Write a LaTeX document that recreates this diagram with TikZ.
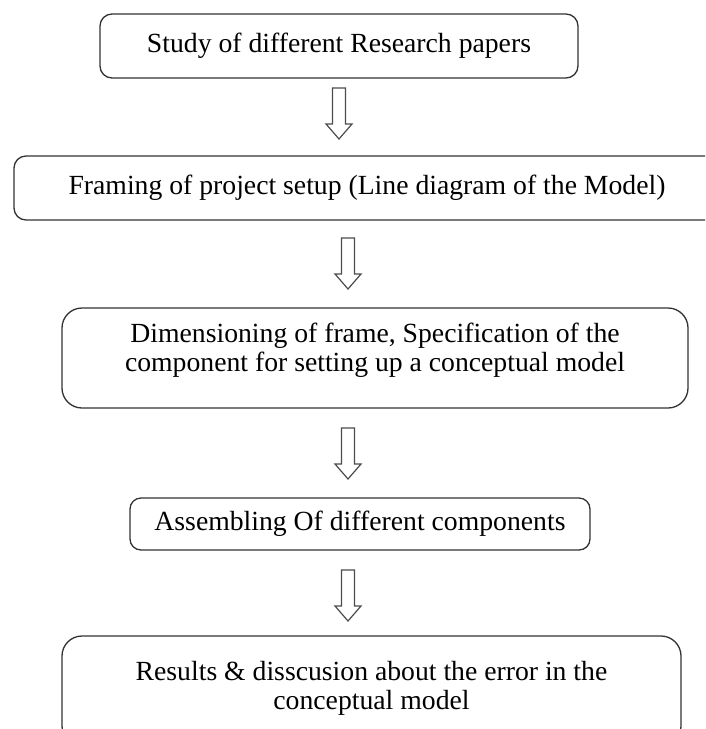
\documentclass[tikz,border=0pt]{standalone}
\usepackage{fontspec}
\setmainfont{Liberation Serif}
\begin{document}
\begin{tikzpicture}[x=1pt,y=-1pt,
  box/.style={draw=black!80, line width=1.3pt, rounded corners=#1, align=center,
    font=\fontsize{27.7}{29}\selectfont, inner sep=0pt, anchor=center},
  box/.default=12pt,
  hollow/.style={draw=black!70, line width=1.2pt, fill=white, line join=miter}]
\useasboundingbox (0,0) rectangle (705,729);
\clip (0,0) rectangle (705,729);
\fill[white] (0,0) rectangle (705,729);
\node[box=12pt, minimum width=478pt, minimum height=64pt] (b1) at (339,46) {Study of different Research papers};
\node[box=12pt, minimum width=706pt, minimum height=64pt] (b2) at (367,188) {Framing of project setup (Line diagram of the Model)};
\node[box=20pt, minimum width=626pt, minimum height=100pt, text depth=22pt] (b3) at (375,358) {Dimensioning of frame, Specification of the\\component for setting up a conceptual model};
\node[box=11pt, minimum width=460pt, minimum height=52pt] (b4) at (360,524) {Assembling Of different components};
\node[box=20pt, minimum width=619pt, minimum height=110pt, text depth=12pt] (b5) at (371.5,691) {Results \& disscusion about the error in the\\conceptual model};
% hollow block arrows between boxes
\coordinate (a1) at (339,88);
\coordinate (a2) at (348,238);
\coordinate (a3) at (348,428);
\coordinate (a4) at (348,570);
\foreach \c in {a1,a2,a3,a4}{
  \draw[hollow] (\c) ++(-6.5,0) -- ++(0,36) -- ++(-6.5,0) -- ++(13,15) -- ++(13,-15) -- ++(-6.5,0) -- ++(0,-36) -- cycle;
}
\end{tikzpicture}
\end{document}
